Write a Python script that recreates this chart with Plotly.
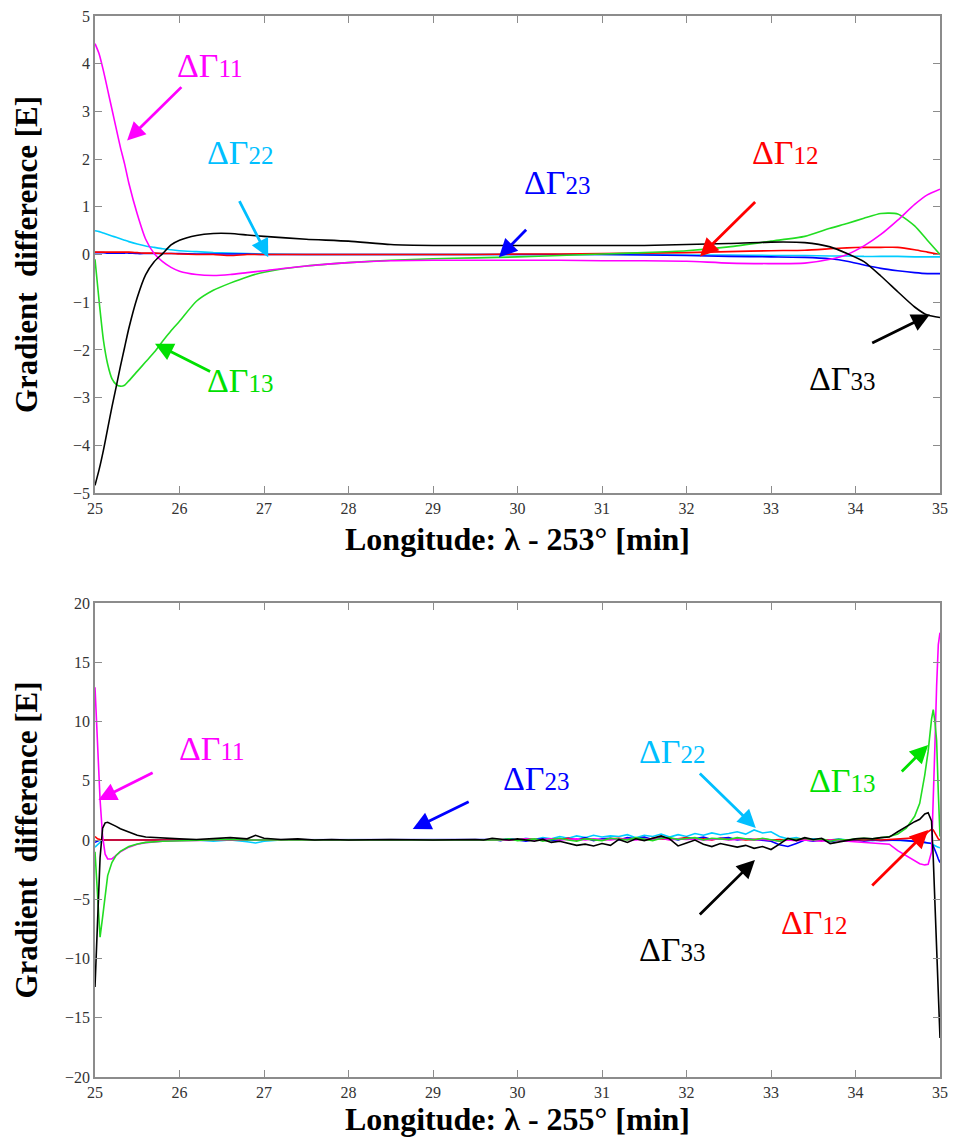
import plotly.graph_objects as go
from plotly.subplots import make_subplots

# ---------------- top panel data (λ - 253°) ----------------
x_top = [25.0, 25.05, 25.1, 25.15, 25.2, 25.25, 25.3, 25.35, 25.4, 25.5, 25.6, 25.7, 25.8, 25.9, 26.0,
         26.2, 26.4, 26.6, 26.8, 27.0, 27.5, 28.0, 28.5, 29.0, 29.5, 30.0, 30.5, 31.0, 31.5, 32.0,
         32.5, 33.0, 33.4, 33.7, 33.9, 34.1, 34.3, 34.5, 34.7, 34.85, 35.0]

top_g11 = [4.42, 4.2, 3.85, 3.45, 3.05, 2.65, 2.25, 1.9, 1.5, 0.85, 0.32, 0.02, -0.15, -0.27, -0.35,
           -0.42, -0.44, -0.42, -0.38, -0.34, -0.24, -0.17, -0.13, -0.12, -0.12, -0.12, -0.12, -0.13, -0.13, -0.14,
           -0.18, -0.19, -0.18, -0.1, 0.0, 0.18, 0.42, 0.72, 1.05, 1.25, 1.37]
top_g33 = [-4.84, -4.5, -4.1, -3.65, -3.2, -2.78, -2.35, -1.95, -1.55, -0.9, -0.42, -0.15, 0.02, 0.2, 0.3,
           0.4, 0.44, 0.44, 0.41, 0.38, 0.32, 0.28, 0.21, 0.19, 0.19, 0.19, 0.19, 0.19, 0.19, 0.21,
           0.23, 0.26, 0.25, 0.16, 0.02, -0.15, -0.45, -0.78, -1.1, -1.27, -1.32]
top_g13 = [-0.1, -1.0, -1.8, -2.3, -2.6, -2.72, -2.76, -2.74, -2.65, -2.45, -2.25, -2.05, -1.82, -1.6, -1.4,
           -0.98, -0.75, -0.6, -0.47, -0.37, -0.24, -0.17, -0.12, -0.09, -0.07, -0.05, -0.02, 0.01, 0.04, 0.08,
           0.16, 0.28, 0.38, 0.55, 0.65, 0.76, 0.86, 0.85, 0.6, 0.3, 0.0]
top_g12 = [0.05, 0.05, 0.05, 0.05, 0.05, 0.05, 0.05, 0.05, 0.05, 0.04, 0.03, 0.03, 0.02, 0.02, 0.01,
           0.0, 0.0, -0.02, 0.0, 0.0, 0.0, 0.0, 0.0, 0.0, 0.0, 0.01, 0.01, 0.02, 0.03, 0.04,
           0.06, 0.08, 0.09, 0.12, 0.14, 0.15, 0.15, 0.15, 0.1, 0.05, 0.0]
top_g22 = [0.5, 0.48, 0.45, 0.42, 0.39, 0.36, 0.33, 0.3, 0.27, 0.22, 0.18, 0.15, 0.12, 0.1, 0.08,
           0.06, 0.04, 0.03, 0.02, 0.01, 0.0, 0.0, 0.0, 0.0, 0.0, 0.0, 0.0, 0.0, 0.0, -0.01,
           -0.01, -0.02, -0.02, -0.03, -0.03, -0.04, -0.04, -0.04, -0.05, -0.05, -0.05]
top_g23 = [0.04, 0.04, 0.04, 0.03, 0.03, 0.03, 0.03, 0.03, 0.03, 0.02, 0.02, 0.02, 0.02, 0.02, 0.02,
           0.01, 0.01, 0.01, 0.01, 0.0, 0.0, 0.0, 0.0, 0.0, 0.0, 0.0, 0.0, 0.0, -0.01, -0.02,
           -0.04, -0.05, -0.06, -0.09, -0.14, -0.22, -0.29, -0.34, -0.38, -0.4, -0.4]

# ---------------- bottom panel data (λ - 255°) ----------------
x_bot = [25.0, 25.03, 25.06, 25.09, 25.12, 25.15, 25.2, 25.25, 25.3, 25.4, 25.5, 25.6, 25.8, 26.0,
         26.2, 26.4, 26.6, 26.8, 26.9, 27.0, 27.2, 27.4, 27.6, 27.8, 28.0, 28.5, 29.0, 29.5,
         29.6, 29.7, 29.8, 29.9, 30.0, 30.1, 30.2, 30.3, 30.4, 30.5, 30.6, 30.7, 30.8, 30.9,
         31.0, 31.1, 31.2, 31.3, 31.4, 31.5, 31.6, 31.7, 31.8, 31.9, 32.0, 32.1, 32.2, 32.3,
         32.4, 32.5, 32.6, 32.7, 32.8, 32.9, 33.0, 33.1, 33.2, 33.3, 33.4, 33.5, 33.6, 33.7,
         33.8, 33.9, 34.0, 34.1, 34.2, 34.3, 34.4,
         34.5, 34.6, 34.7, 34.76, 34.82, 34.86, 34.9, 34.92, 34.94, 34.96, 34.98, 35.0]

bot_g11 = [12.9, 7.5, 3.4, 0.3, -1.2, -1.6, -1.6, -1.3, -1.0, -0.6, -0.35, -0.22, -0.1, -0.05,
           -0.02, 0.0, 0.0, 0.0, 0.0, 0.0, 0.0, 0.0, 0.0, 0.0, 0.0, 0.0, 0.0, 0.0,
           0.0, 0.05, 0.0, 0.05, 0.0, 0.1, 0.0, 0.05, 0.1, 0.0, 0.05, 0.1, 0.0, 0.1,
           0.05, 0.0, 0.1, 0.05, 0.0, 0.1, 0.05, 0.15, 0.0, 0.1, 0.05, 0.1, 0.0, 0.05,
           0.1, 0.0, 0.05, 0.1, 0.0, 0.05, 0.0, -0.1, 0.0, -0.05, 0.0, -0.05, -0.1, 0.0,
           -0.05, -0.1, -0.1, -0.15, -0.2, -0.25, -0.35,
           -0.9, -1.3, -1.7, -2.0, -2.1, -2.05, -1.0, 3.0, 8.0, 13.0, 16.5, 17.5]
bot_g33 = [-12.4, -7.0, -1.5, 1.0, 1.45, 1.5, 1.35, 1.15, 0.95, 0.65, 0.4, 0.25, 0.15, 0.1,
           0.05, 0.1, 0.2, 0.1, 0.4, 0.15, 0.05, 0.1, 0.0, 0.05, 0.0, 0.05, 0.0, 0.05,
           0.0, 0.15, 0.05, 0.0, 0.1, 0.0, -0.1, 0.05, -0.2, -0.1, -0.3, -0.45, -0.35, -0.5,
           -0.3, -0.45, 0.05, -0.2, 0.1, -0.05, 0.15, 0.35, 0.1, -0.5, -0.25, 0.0, -0.35, -0.55,
           -0.3, -0.45, -0.6, -0.45, -0.7, -0.55, -0.8, -0.35, 0.15, -0.05, 0.2, 0.05, 0.15, -0.3,
           -0.15, -0.05, 0.1, 0.15, 0.1, 0.2, 0.25,
           0.7, 1.15, 1.55, 1.75, 2.2, 2.3, 1.6, -1.5, -5.0, -9.5, -13.5, -16.7]
bot_g13 = [-1.0, -5.0, -8.2, -6.5, -4.5, -3.0, -1.9, -1.3, -0.95, -0.55, -0.33, -0.2, -0.1, -0.05,
           -0.02, 0.0, 0.05, 0.0, 0.0, 0.05, 0.0, 0.0, 0.05, 0.0, 0.0, 0.0, 0.0, 0.0,
           0.0, 0.05, 0.0, 0.1, -0.05, 0.0, 0.1, -0.1, 0.05, 0.15, 0.0, -0.1, 0.1, 0.05,
           -0.05, 0.15, 0.1, 0.0, 0.2, 0.1, -0.05, 0.15, 0.2, 0.05, 0.1, 0.2, 0.0, 0.15,
           0.1, 0.05, 0.2, 0.1, 0.0, 0.15, 0.05, -0.1, 0.1, 0.05, 0.15, 0.0, 0.1, -0.1,
           0.05, 0.0, 0.1, 0.15, 0.1, 0.2, 0.3,
           0.5, 1.0, 2.0, 3.1, 5.5, 7.5, 10.2, 11.0, 10.0, 8.4, 4.0, 0.3]
bot_g12 = [0.3, 0.1, 0.05, 0.0, 0.0, 0.0, 0.0, 0.0, 0.0, 0.0, 0.0, 0.0, 0.0, 0.0,
           0.0, 0.0, 0.0, 0.0, 0.0, 0.0, 0.0, 0.0, 0.0, 0.0, 0.0, 0.0, 0.0, 0.0,
           0.0, 0.05, 0.0, 0.05, 0.0, 0.1, 0.05, 0.0, 0.1, 0.05, 0.15, 0.0, 0.1, 0.05,
           0.0, 0.1, 0.15, 0.05, 0.1, 0.0, 0.15, 0.1, 0.05, 0.1, 0.2, 0.05, 0.1, 0.0,
           0.15, 0.05, 0.1, 0.0, 0.05, 0.1, 0.0, 0.05, 0.0, 0.05, 0.1, 0.0, 0.05, 0.0,
           0.05, 0.0, 0.05, 0.0, 0.05, 0.0, 0.05,
           0.05, 0.1, 0.15, 0.2, 0.4, 0.7, 0.9, 0.85, 0.6, 0.3, 0.1, 0.0]
bot_g22 = [-0.6, -0.4, -0.2, 0.0, 0.0, 0.0, 0.0, 0.0, 0.0, 0.0, 0.0, 0.0, 0.0, 0.0,
           0.0, -0.1, 0.0, -0.15, -0.25, -0.1, 0.0, 0.0, 0.0, 0.0, 0.0, 0.0, 0.0, 0.0,
           0.0, 0.05, 0.0, 0.1, 0.0, 0.15, 0.05, 0.2, 0.1, 0.3, 0.15, 0.35, 0.2, 0.4,
           0.25, 0.35, 0.3, 0.45, 0.2, 0.4, 0.3, 0.5, 0.25, 0.45, 0.3, 0.55, 0.4, 0.6,
           0.45, 0.55, 0.7, 0.5, 0.85, 0.6, 0.7, 0.3, 0.1, 0.2, 0.0, 0.1, 0.05, 0.0,
           0.1, 0.0, 0.05, 0.0, -0.05, 0.0, 0.0,
           0.0, -0.05, -0.1, -0.15, -0.2, -0.25, -0.3, -0.4, -0.5, -0.55, -0.6, -0.65]
bot_g23 = [-0.2, -0.1, 0.0, 0.0, 0.0, 0.0, 0.0, 0.0, 0.0, 0.0, 0.0, 0.0, 0.0, 0.0,
           0.0, 0.0, 0.0, 0.0, 0.0, 0.0, 0.0, 0.0, 0.0, 0.0, 0.0, 0.0, 0.0, 0.0,
           0.0, 0.05, -0.05, 0.1, 0.0, -0.1, 0.05, 0.1, -0.05, 0.0, 0.15, 0.0, 0.2, -0.05,
           0.1, 0.15, 0.0, 0.2, 0.1, 0.25, 0.05, 0.2, 0.15, 0.0, 0.2, 0.1, 0.25, 0.05,
           0.15, 0.2, 0.0, 0.1, 0.05, 0.0, -0.1, -0.4, -0.55, -0.3, 0.0, -0.1, 0.0, -0.15,
           0.0, -0.05, 0.0, -0.1, 0.0, -0.05, 0.0,
           0.0, -0.05, -0.1, -0.15, -0.2, -0.25, -0.3, -0.5, -0.8, -1.2, -1.6, -1.9]

# series names / colours
colors = {"ΔΓ11": "#FF00FF", "ΔΓ12": "#FF0000", "ΔΓ13": "#22DD22",
          "ΔΓ22": "#00CCFF", "ΔΓ23": "#0000FF", "ΔΓ33": "#000000"}
label_colors = {"ΔΓ11": "#FF00FF", "ΔΓ12": "#FF0000", "ΔΓ13": "#00E000",
                "ΔΓ22": "#00BFFF", "ΔΓ23": "#0000FF", "ΔΓ33": "#000000"}
top_series = {"ΔΓ22": top_g22, "ΔΓ23": top_g23, "ΔΓ12": top_g12,
              "ΔΓ13": top_g13, "ΔΓ11": top_g11, "ΔΓ33": top_g33}
bot_series = {"ΔΓ22": bot_g22, "ΔΓ23": bot_g23, "ΔΓ12": bot_g12,
              "ΔΓ11": bot_g11, "ΔΓ13": bot_g13, "ΔΓ33": bot_g33}

# annotation placement (data coords): text, arrow tail, arrow tip
top_notes = [("ΔΓ11", 26.36, 3.96, 26.04, 3.54, 25.38, 2.39),
             ("ΔΓ22", 26.72, 2.14, 26.70, 1.15, 27.05, -0.06),
             ("ΔΓ13", 26.72, -2.64, 26.38, -2.47, 25.71, -1.87),
             ("ΔΓ23", 30.47, 1.51, 30.12, 0.55, 29.78, -0.06),
             ("ΔΓ12", 33.17, 2.14, 32.83, 1.13, 32.16, -0.04),
             ("ΔΓ33", 33.85, -2.60, 34.18, -1.87, 34.88, -1.26)]
bot_notes = [("ΔΓ11", 26.38, 7.76, 25.70, 5.74, 25.04, 3.38),
             ("ΔΓ23", 30.23, 5.23, 29.44, 3.29, 28.76, 0.93),
             ("ΔΓ22", 31.83, 7.43, 32.14, 5.74, 32.82, 1.01),
             ("ΔΓ13", 33.85, 5.06, 34.53, 5.65, 34.86, 8.02),
             ("ΔΓ33", 31.83, -9.28, 32.14, -6.41, 32.81, -1.69),
             ("ΔΓ12", 33.52, -7.00, 34.18, -3.97, 34.86, 0.84)]

top_yticks = [5, 4, 3, 2, 1, 0, -1, -2, -3, -4, -5]
bot_yticks = [20, 15, 10, 5, 0, -5, -10, -15, -20]
xticks = [25, 26, 27, 28, 29, 30, 31, 32, 33, 34, 35]

SERIF = "Liberation Serif"

fig = make_subplots(rows=2, cols=1)

for nm, ys in top_series.items():
    fig.add_trace(go.Scatter(x=x_top, y=ys, mode="lines", name=nm, showlegend=False,
                             line=dict(color=colors[nm], width=1.6, shape="spline", smoothing=0.6)),
                  row=1, col=1)
for nm, ys in bot_series.items():
    fig.add_trace(go.Scatter(x=x_bot, y=ys, mode="lines", name=nm, showlegend=False,
                             line=dict(color=colors[nm], width=1.6)),
                  row=2, col=1)


def label_html(nm):
    return "ΔΓ<span style='font-size:25px'>%s</span>" % nm[2:]


for notes, xr, yr in [(top_notes, "x", "y"), (bot_notes, "x2", "y2")]:
    for nm, tx, ty, ax, ay, px, py in notes:
        c = label_colors[nm]
        fig.add_annotation(x=px, y=py, ax=ax, ay=ay, xref=xr, yref=yr, axref=xr, ayref=yr,
                           text="", showarrow=True, arrowhead=2, arrowsize=1.3,
                           arrowwidth=2.8, arrowcolor=c)
        fig.add_annotation(x=tx, y=ty, xref=xr, yref=yr, text=label_html(nm), showarrow=False,
                           font=dict(family=SERIF, size=34, color=c))

axis_common = dict(showgrid=False, zeroline=False, showline=True, linecolor="#8c8c8c",
                   linewidth=1.5, mirror="ticks", ticks="inside", ticklen=7, tickwidth=1.3,
                   tickcolor="#8c8c8c", automargin=False,
                   tickfont=dict(family=SERIF, size=16, color="#333333"))

xtitle_font = dict(family=SERIF, size=32, color="#000000")
ytitle_font = dict(family=SERIF, size=31, color="#000000")
fig.update_xaxes(range=[25, 35], tickvals=xticks, **axis_common)
fig.update_xaxes(title=dict(text="<b>Longitude: λ - 253° [min]</b>", standoff=12, font=xtitle_font),
                 row=1, col=1)
fig.update_xaxes(title=dict(text="<b>Longitude: λ - 255° [min]</b>", standoff=6, font=xtitle_font),
                 row=2, col=1)
fig.update_yaxes(**axis_common)
fig.update_yaxes(range=[-5, 5], tickvals=top_yticks, row=1, col=1,
                 title=dict(text="<b>Gradient  difference [E]</b>", standoff=26, font=ytitle_font))
fig.update_yaxes(range=[-20, 20], tickvals=bot_yticks, row=2, col=1,
                 title=dict(text="<b>Gradient  difference [E]</b>", standoff=18, font=ytitle_font))

fig.update_layout(
    width=953, height=1141,
    margin=dict(l=95, r=13, t=16, b=64),
    paper_bgcolor="white", plot_bgcolor="white",
    xaxis=dict(domain=[0, 1]), xaxis2=dict(domain=[0, 1]),
    yaxis=dict(domain=[0.5504, 1.0]), yaxis2=dict(domain=[0.0, 0.4467]),
)

# remove the default 8 px page margin so the figure fills the 953x1141 window exactly
fig.write_html("out.html", config={"displayModeBar": False},
               post_script="document.body.style.margin='0';")
